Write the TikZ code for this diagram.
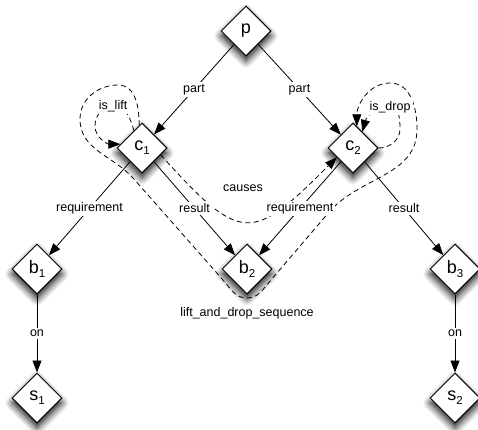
\documentclass[tikz,border=0pt]{standalone}
\usepackage{fontspec}
\setmainfont{Liberation Sans}
\usetikzlibrary{shapes.geometric,arrows.meta,shadows.blur}

\newcommand{\idx}[1]{\raisebox{-0.45ex}{\fontsize{11.5}{11.5}\selectfont #1}}

\tikzset{
  elem/.style={diamond,aspect=1,draw,line width=1pt,fill=white,minimum size=50pt,inner sep=0pt,
    font=\fontsize{18}{18}\selectfont,
    blur shadow={shadow xshift=0pt,shadow yshift=-5pt,shadow blur radius=7pt,shadow blur steps=8,shadow opacity=95}},
  rel/.style={line width=0.8pt,-{Triangle[length=12pt,width=9pt]}},
  seq/.style={line width=0.8pt,dash pattern=on 5pt off 3.5pt},
  lbl/.style={fill=white,inner sep=2pt,font=\fontsize{12.5}{14}\selectfont}
}

\begin{document}
\begin{tikzpicture}[x=1pt,y=1pt]
\useasboundingbox (0,0) rectangle (478,429);

\node[elem] (p) at (246,398) {p};
\node[elem] (c1) at (142,281) {c\idx{1}};
\node[elem] (c2) at (353,281) {c\idx{2}};
\node[elem] (b1) at (37,160) {b\idx{1}};
\node[elem] (b2) at (247,160) {b\idx{2}};
\node[elem] (b3) at (455,160) {b\idx{3}};
\node[elem] (s1) at (37,31) {s\idx{1}};
\node[elem] (s2) at (455,31) {s\idx{2}};

% lift and drop sequence, round both loops and under b2
\draw[seq,-{Triangle[length=12pt,width=9pt]}] (c1.97) to[out=90,in=0] (118,344)
  to[out=180,in=90] (80,310) to[out=-90,in=132] (133,251) -- (223,149)
  to[out=-48,in=180] (247,131) to[out=0,in=-132] (271,149) -- (330,218)
  to[out=48,in=-90] (417,300) to[out=90,in=0] (390,346) to[out=180,in=90] (c2.80);
\draw[seq,-{Triangle[length=12pt,width=9pt]}] (c1.115) to[out=105,in=0] (113,323)
  to[out=180,in=90] (95,303) to[out=-90,in=180] (c1.170);
\draw[seq,-{Triangle[length=12pt,width=9pt]}] (c2.east) to[out=0,in=-90] (400,300)
  to[out=90,in=0] (390,322) to[out=180,in=75] (c2.60);
\draw[seq,-{Triangle[length=12pt,width=9pt]}] (c1.-20) to[out=-48,in=-135,looseness=1.75] (c2.-150);

\node[lbl] (lift) at (113,323) {is\_lift};
\node[lbl] (drop) at (390,322) {is\_drop};
\node[lbl] (cause) at (243,241) {causes};
\node[lbl] (sequence) at (247,116) {lift\_and\_drop\_sequence};

\draw[rel] (p) -- node[lbl] (part1) {part} (c1);
\draw[rel] (p) -- node[lbl] (part2) {part} (c2);
\draw[rel] (c1) -- node[lbl] (req1) {requirement} (b1);
\draw[rel] (c1) -- node[lbl] (res1) {result} (b2);
\draw[rel] (c2) -- node[lbl] (req2) {requirement} (b2);
\draw[rel] (c2) -- node[lbl] (res2) {result} (b3);
\draw[rel] (b1) -- node[lbl] (on1) {on} (s1);
\draw[rel] (b3) -- node[lbl] (on2) {on} (s2);
\end{tikzpicture}
\end{document}
